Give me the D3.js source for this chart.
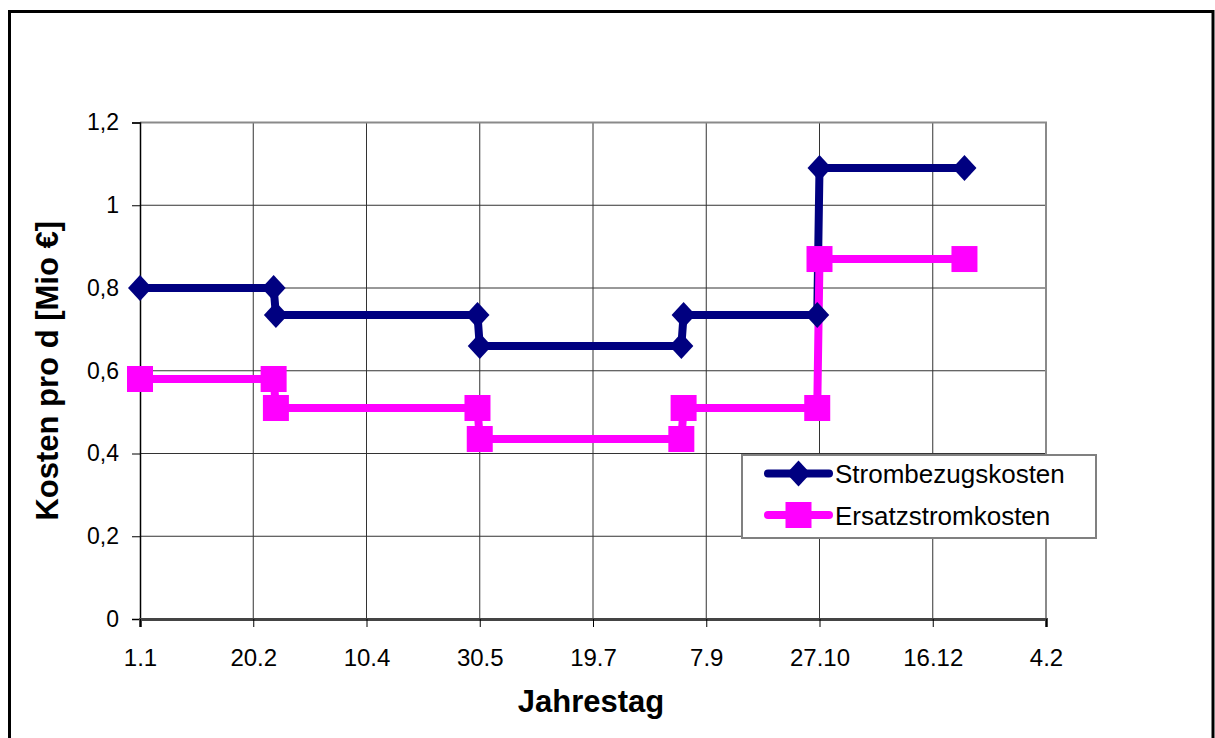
<!DOCTYPE html>
<html>
<head>
<meta charset="utf-8">
<script src="https://cdn.jsdelivr.net/npm/d3@7"></script>
<style>
  html, body { margin: 0; padding: 0; background: #fff; }
  svg { display: block; font-family: "Liberation Sans", Arial, sans-serif; }
</style>
</head>
<body>
<svg id="chart" width="1215" height="738"></svg>
<script>
// Day of year for each step point
const days = [0, 59, 60, 149, 150, 239, 240, 299, 300, 364];
// Daily costs in million euro
const strombezug = [0.80, 0.80, 0.735, 0.735, 0.66, 0.66, 0.735, 0.735, 1.09, 1.09];
const ersatzstrom = [0.58, 0.58, 0.51, 0.51, 0.435, 0.435, 0.51, 0.51, 0.87, 0.87];

const xTickDays = [0, 50, 100, 150, 200, 250, 300, 350, 400];
const xTickLabels = ["1.1", "20.2", "10.4", "30.5", "19.7", "7.9", "27.10", "16.12", "4.2"];
const yTicks = [0, 0.2, 0.4, 0.6, 0.8, 1.0, 1.2];
const yTickLabels = ["0", "0,2", "0,4", "0,6", "0,8", "1", "1,2"];

const seriesNames = ["Strombezugskosten", "Ersatzstromkosten"];
const seriesColors = ["#000080", "#ff00ff"];

const svg = d3.select("#chart");

// outer chart frame
svg.append("rect")
  .attr("x", 9.5).attr("y", 11.5)
  .attr("width", 1203.5).attr("height", 800)
  .attr("fill", "#fff").attr("stroke", "#000").attr("stroke-width", 3);

const x = d3.scaleLinear().domain([0, 400]).range([140, 1046]);
const y = d3.scaleLinear().domain([0, 1.2]).range([619, 122.5]);

// grid
const grid = svg.append("g");
grid.selectAll("line.v").data(xTickDays.slice(1, -1)).join("line")
  .attr("x1", d => x(d)).attr("x2", d => x(d))
  .attr("y1", y(1.2)).attr("y2", y(0))
  .attr("stroke", "#333").attr("stroke-width", 1);
grid.selectAll("line.h").data(yTicks.slice(1, -1)).join("line")
  .attr("x1", x(0)).attr("x2", x(400))
  .attr("y1", d => y(d)).attr("y2", d => y(d))
  .attr("stroke", "#333").attr("stroke-width", 1);

// plot area border (top and right)
svg.append("path")
  .attr("d", `M${x(0)},${y(1.2)}H${x(400)}V${y(0)}`)
  .attr("fill", "none").attr("stroke", "#8a8a8a").attr("stroke-width", 2);

// y axis
const yAxis = svg.append("g")
  .attr("transform", `translate(${x(0)},0)`)
  .call(d3.axisLeft(y).tickValues(yTicks).tickFormat((d, i) => yTickLabels[i]).tickSize(8).tickPadding(13));
yAxis.select(".domain").attr("stroke", "#000").attr("stroke-width", 1.5);
yAxis.selectAll(".tick line").attr("stroke", "#000");
yAxis.selectAll("text").attr("font-size", 23).attr("fill", "#000")
  .attr("font-family", "Liberation Sans, Arial, sans-serif");

// x axis
const xAxis = svg.append("g")
  .attr("transform", `translate(0,${y(0)})`)
  .call(d3.axisBottom(x).tickValues(xTickDays).tickFormat((d, i) => xTickLabels[i]).tickSize(8).tickPadding(22));
xAxis.select(".domain").attr("stroke", "#444").attr("stroke-width", 3);
xAxis.selectAll(".tick line").attr("stroke", "#000");
xAxis.selectAll("text").attr("font-size", 24).attr("fill", "#000")
  .attr("font-family", "Liberation Sans, Arial, sans-serif");

// axis titles
svg.append("text")
  .attr("x", 591).attr("y", 712)
  .attr("text-anchor", "middle")
  .attr("font-size", 31).attr("font-weight", "bold")
  .text("Jahrestag");
svg.append("text")
  .attr("transform", `translate(58,${(y(0) + y(1.2)) / 2}) rotate(-90)`)
  .attr("text-anchor", "middle")
  .attr("font-size", 31).attr("font-weight", "bold")
  .text("Kosten pro d [Mio €]");

// series
const line = d3.line().x(d => x(d[0])).y(d => y(d[1]));
const series = [strombezug, ersatzstrom].map(vals => days.map((d, i) => [d, vals[i]]));

const diamond = (cx, cy) => `M${cx},${cy - 13}L${cx + 12},${cy}L${cx},${cy + 13}L${cx - 12},${cy}Z`;
const square = (cx, cy) => `M${cx - 13},${cy - 13}h26v26h-26Z`;
const markers = [diamond, square];

series.forEach((pts, s) => {
  svg.append("path").attr("d", line(pts))
    .attr("fill", "none").attr("stroke", seriesColors[s])
    .attr("stroke-width", 8).attr("stroke-linejoin", "round");
});
series.forEach((pts, s) => {
  svg.append("g").selectAll("path").data(pts).join("path")
    .attr("d", d => markers[s](x(d[0]), y(d[1])))
    .attr("fill", seriesColors[s]);
});

// legend
const lg = svg.append("g");
lg.append("rect")
  .attr("x", 742).attr("y", 455).attr("width", 354).attr("height", 83)
  .attr("fill", "#fff").attr("stroke", "#808080").attr("stroke-width", 2);
[473.5, 515].forEach((cy, s) => {
  lg.append("line")
    .attr("x1", 768).attr("x2", 829).attr("y1", cy).attr("y2", cy)
    .attr("stroke", seriesColors[s]).attr("stroke-width", 8).attr("stroke-linecap", "round");
  lg.append("path").attr("d", markers[s](798.5, cy)).attr("fill", seriesColors[s]);
  lg.append("text")
    .attr("x", 835).attr("y", cy + 9.5)
    .attr("font-size", 26).attr("fill", "#000")
    .text(seriesNames[s]);
});
</script>
</body>
</html>
